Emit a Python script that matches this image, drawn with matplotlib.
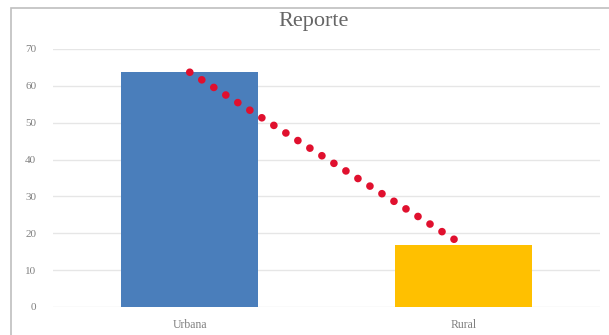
import matplotlib.pyplot as plt
from matplotlib.patches import Rectangle

categories = ['Urbana', 'Rural']
values = [63.7, 16.8]
colors = ['#4a7ebb', '#ffc000']

plt.rcParams['font.family'] = ['Liberation Serif', 'DejaVu Serif']

fig = plt.figure(figsize=(6.09, 3.35), dpi=100)
# chart area border, only left/top edges fall inside the picture
fig.patches.append(Rectangle((11 / 609, -0.05), 1.2, 1.0262, transform=fig.transFigure,
                             fill=False, edgecolor='#bfbfbf', linewidth=1.2))

ax = fig.add_axes([53 / 609, 1 - 307 / 335, 547 / 609, 258 / 335])
x = list(range(len(categories)))
ax.bar(x, values, width=0.5, color=colors, zorder=2)
ax.plot(x, values, color='#e0102e', linestyle=(0, (0.01, 1.85)), linewidth=5.5,
        dash_capstyle='round', zorder=3)

ax.set_xlim(-0.5, 1.5)
ax.set_ylim(0, 70)
ax.set_yticks(range(0, 71, 10))
ax.set_xticks(x)
ax.set_xticklabels(categories)
ax.grid(axis='y', color='#e6e6e6', linewidth=1, zorder=0)
for s in ax.spines.values():
    s.set_visible(False)
ax.tick_params(length=0, labelsize=8, colors='#808080', pad=12)
ax.tick_params(axis='x', labelsize=8.5, pad=9)

fig.text(314 / 609, 0.935, 'Reporte', ha='center', va='center', fontsize=16, color='#666666')

fig.savefig('out.png', dpi=100)
